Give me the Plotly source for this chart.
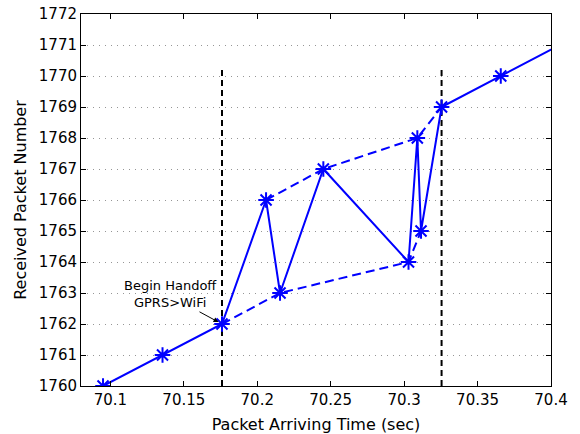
import plotly.graph_objects as go

# Data
arrival_time = [70.095, 70.1355, 70.176, 70.206, 70.2155, 70.245, 70.303, 70.309, 70.3115, 70.3255, 70.3658, 70.406]
packet_no = [1760, 1761, 1762, 1766, 1763, 1767, 1764, 1768, 1765, 1769, 1770, 1771]

lower_time = [70.176, 70.2155, 70.303, 70.3115]
lower_pkt = [1762, 1763, 1764, 1765]
upper_time = [70.206, 70.245, 70.309, 70.3255]
upper_pkt = [1766, 1767, 1768, 1769]

handoff_times = [70.176, 70.3255]
handoff_y = [1760, 1770.3]

x_ticks = [70.1, 70.15, 70.2, 70.25, 70.3, 70.35, 70.4]
x_tick_text = ["70.1", "70.15", "70.2", "70.25", "70.3", "70.35", "70.4"]

BLUE = "rgb(0,0,255)"
FONT = "DejaVu Sans, Liberation Sans, Arial"
fig = go.Figure()

for t in handoff_times:
    fig.add_trace(go.Scatter(x=[t, t], y=handoff_y, mode="lines",
                             line=dict(color="black", width=2, dash="6px,4px"),
                             showlegend=False, hoverinfo="skip"))

fig.add_trace(go.Scatter(x=lower_time, y=lower_pkt, mode="lines",
                         line=dict(color=BLUE, width=2, dash="9px,5px"), showlegend=False))
fig.add_trace(go.Scatter(x=upper_time, y=upper_pkt, mode="lines",
                         line=dict(color=BLUE, width=2, dash="9px,5px"), showlegend=False))
fig.add_trace(go.Scatter(x=arrival_time, y=packet_no, mode="lines+markers",
                         line=dict(color=BLUE, width=2),
                         marker=dict(symbol="asterisk-open", size=13,
                                     line=dict(color=BLUE, width=2)),
                         showlegend=False))

fig.add_annotation(x=70.141, y=1762.96, xref="x", yref="y",
                   text="Begin Handoff<br>GPRS&gt;WiFi", showarrow=False,
                   font=dict(family=FONT, size=13, color="black"))
fig.add_annotation(x=handoff_times[0], y=1762, xref="x", yref="y", text="",
                   showarrow=True, arrowhead=2, arrowsize=1, arrowwidth=1,
                   arrowcolor="black", ax=-24, ay=-13, standoff=4)

axis_common = dict(showline=True, linecolor="black", linewidth=1, mirror="ticks",
                   ticks="inside", ticklen=5, tickcolor="black", tickwidth=1,
                   zeroline=False, automargin=False, ticklabeloverflow="allow",
                   tickfont=dict(family=FONT, size=15, color="black"))

fig.update_xaxes(range=[70.08, 70.4], tickvals=x_ticks, ticktext=x_tick_text,
                 showgrid=False,
                 title=dict(text="Packet Arriving Time (sec)",
                            font=dict(family=FONT, size=16, color="black"), standoff=10),
                 **axis_common)
fig.update_yaxes(range=[1760, 1772], dtick=1, tick0=1760,
                 showgrid=True, gridcolor="rgb(150,150,150)", griddash="1px,5px", gridwidth=1,
                 title=dict(text="Received Packet Number",
                            font=dict(family=FONT, size=16, color="black"), standoff=8),
                 **axis_common)

fig.update_layout(width=580, height=434,
                  margin=dict(l=81, r=29, t=14, b=48, autoexpand=False),
                  paper_bgcolor="white", plot_bgcolor="white",
                  font=dict(family=FONT, color="black"))

# remove the default 8px page margin so the figure fills the window exactly
fig.write_html("out.html",
               config={"displayModeBar": False, "staticPlot": True},
               post_script="document.body.style.margin='0px';document.body.style.overflow='hidden';")
